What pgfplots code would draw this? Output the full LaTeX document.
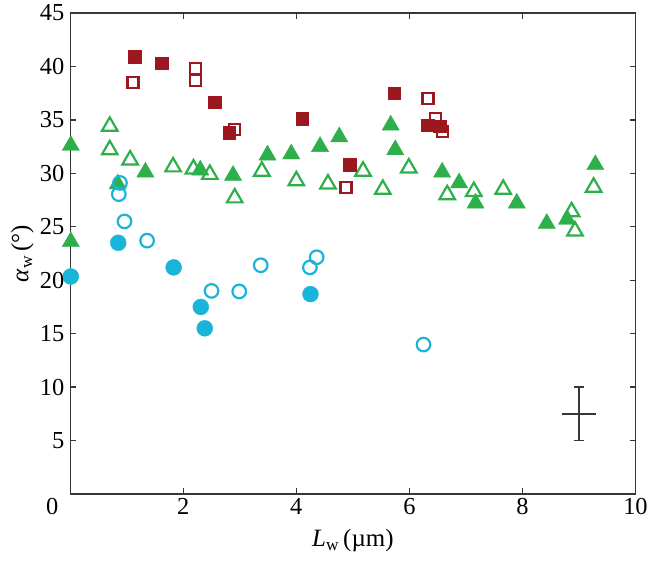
\documentclass[border=0pt]{standalone}
\usepackage{fontspec}
\setmainfont{Liberation Serif}
\usepackage{pgfplots}
\pgfplotsset{compat=1.18}
\definecolor{dred}{RGB}{155,25,30}
\definecolor{mgreen}{RGB}{45,175,75}
\definecolor{mcyan}{RGB}{25,180,215}
\definecolor{axgray}{RGB}{55,55,55}
\begin{document}
\begin{tikzpicture}
\begin{axis}[
  scale only axis, width=567.5pt, height=483pt,
  xmin=0, xmax=10, ymin=0, ymax=45,
  xtick={0,2,4,6,8,10}, ytick={5,10,15,20,25,30,35,40,45},
  xticklabels={{\makebox[0pt][r]{0\hspace{12pt}}},2,4,6,8,10},
  tick align=inside, major tick length=6pt,
  axis line style={axgray, line width=1.3pt},
  every tick/.style={axgray, line width=1.3pt},
  tick label style={font=\fontsize{24.5}{30}\selectfont},
  yticklabel style={xshift=-2.5pt},
  xticklabel style={yshift=-1pt},
  /pgf/number format/assume math mode=true,
  clip=false,
  xlabel={\textit{L}\textsubscript{w}\,(µm)},
  ylabel={\textit{α}\textsubscript{w}\,(°)},
  label style={font=\fontsize{25}{30}\selectfont},
  xlabel style={at={(rel axis cs:0.5,0)}, anchor=center, yshift=-47pt},
  ylabel style={at={(rel axis cs:-0.0846,0.5)}, anchor=center},
]
% open triangles
\addplot[only marks, mark=triangle, mark size=9pt, mgreen, mark options={line width=2.2pt}] coordinates {
(0.70,34.4) (0.70,32.2) (1.06,31.25) (1.82,30.6) (2.18,30.4) (2.47,29.9) (2.91,27.7) (3.39,30.2) (4.00,29.3) (4.56,29.0) (5.18,30.2) (5.53,28.5) (5.99,30.5) (6.67,28.0) (7.14,28.3) (7.66,28.5) (8.87,26.4) (8.93,24.6) (9.26,28.7)};
% filled triangles
\addplot[only marks, mark=triangle*, mark size=10pt, mgreen, mark options={fill=mgreen, draw=none}] coordinates {
(0.01,32.6) (0.01,23.6) (0.84,29.0) (1.33,30.1) (2.30,30.3) (2.88,29.8) (3.49,31.7) (3.91,31.8) (4.42,32.5) (4.76,33.4) (5.67,34.5) (5.75,32.2) (6.58,30.1) (6.88,29.1) (7.17,27.2) (7.90,27.2) (8.43,25.3) (8.79,25.7) (9.29,30.8)};
% filled circles
\addplot[only marks, mark=*, mark size=8pt, mcyan, mark options={fill=mcyan, draw=none}] coordinates {
(0.01,20.35) (0.85,23.5) (1.83,21.2) (2.31,17.5) (2.38,15.5) (4.25,18.7)};
% open circles
\addplot[only marks, mark=o, mark size=6.8pt, mcyan, mark options={line width=2.2pt}] coordinates {
(0.88,29.1) (0.86,28.05) (0.96,25.5) (1.36,23.7) (2.50,19.0) (2.99,18.95) (3.37,21.4) (4.24,21.2) (4.36,22.15) (6.25,13.98)};
% open squares
\addplot[only marks, mark=square, mark size=5.5pt, dred, mark options={line width=2.2pt}] coordinates {
(1.11,38.5) (2.21,39.8) (2.22,38.7) (2.91,34.1) (4.88,28.7) (6.33,37.0) (6.46,35.1) (6.59,33.9)};
% filled squares
\addplot[only marks, mark=square*, mark size=6.3pt, dred, mark options={fill=dred, draw=none}] coordinates {
(1.14,40.9) (1.62,40.3) (2.56,36.65) (2.81,33.8) (4.10,35.1) (4.94,30.8) (5.73,37.5) (6.32,34.5) (6.54,34.4)};
% error cross
\addplot[axgray, line width=1.8pt, mark=none, draw=none,
  error bars/.cd, y dir=both, y explicit, error bar style={line width=1.8pt, axgray},
  error mark options={rotate=90, mark size=5pt, line width=1.8pt, axgray}] coordinates {(9,7.5) +- (0,2.5)};
\addplot[axgray, line width=1.8pt, mark=none, draw=none,
  error bars/.cd, x dir=both, x explicit, error bar style={line width=1.8pt, axgray},
  error mark=none] coordinates {(9,7.5) +- (0.3,0)};
\end{axis}
\path ([shift={(-70.5pt,-68pt)}]current axis.south west) rectangle ([shift={(13pt,13pt)}]current axis.north east);
\end{tikzpicture}
\end{document}
